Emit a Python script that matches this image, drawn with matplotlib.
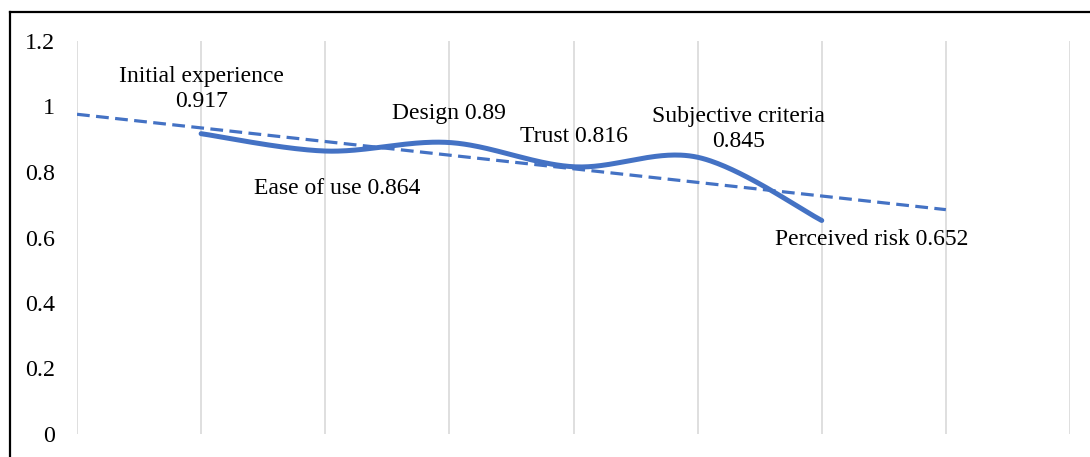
import numpy as np
import matplotlib
matplotlib.use("Agg")
import matplotlib.pyplot as plt
from matplotlib.lines import Line2D

# Factor scores along the adoption path
factors = ["Initial experience", "Ease of use", "Design", "Trust",
           "Subjective criteria", "Perceived risk"]
scores = [0.917, 0.864, 0.89, 0.816, 0.845, 0.652]
y_ticks = [0, 0.2, 0.4, 0.6, 0.8, 1, 1.2]
y_tick_labels = ["0", "0.2", "0.4", "0.6", "0.8", "1", "1.2"]

# label text layout: (text, dx, dy) offsets in pixels from each point
label_texts = ["Initial experience\n0.917", "Ease of use 0.864", "Design 0.89",
               "Trust 0.816", "Subjective criteria\n0.845", "Perceived risk 0.652"]
label_offsets = [(0, 45), (12, -37), (0, 29), (0, 30), (41, 28), (50, -19)]

BLUE = "#4472C4"
SERIF = ["Liberation Serif", "DejaVu Serif"]

x = np.arange(1, len(scores) + 1, dtype=float)
y = np.array(scores, dtype=float)


def smooth_curve(xs, ys, n=60):
    """Bezier smoothing through the points (Catmull-Rom style tangents)."""
    pts = np.column_stack([xs, ys])
    ext = np.vstack([pts[0], pts, pts[-1]])
    t = np.linspace(0, 1, n)[:, None]
    out = []
    for i in range(len(pts) - 1):
        p0, p1 = ext[i + 1], ext[i + 2]
        c1 = p0 + (ext[i + 2] - ext[i]) / 6.0
        c2 = p1 - (ext[i + 3] - ext[i + 1]) / 6.0
        seg = ((1 - t) ** 3) * p0 + 3 * ((1 - t) ** 2) * t * c1 \
            + 3 * (1 - t) * t ** 2 * c2 + t ** 3 * p1
        out.append(seg if i == 0 else seg[1:])
    seg = np.vstack(out)
    return seg[:, 0], seg[:, 1]


fig = plt.figure(figsize=(10.9, 4.57), dpi=100)
ax = fig.add_axes([77 / 1090, 23 / 457, 993 / 1090, 393 / 457])

# vertical category gridlines
for gx in range(0, 9):
    ax.axvline(gx, color="#D9D9D9", lw=1.2, zorder=0)

# linear trendline, forecast one period backward and forward
slope, intercept = np.polyfit(x, y, 1)
tx = np.array([0.0, 7.0])
ax.plot(tx, slope * tx + intercept, color=BLUE, lw=2.3, dashes=(4, 2), zorder=2)

sx, sy = smooth_curve(x, y)
ax.plot(sx, sy, color=BLUE, lw=3.6, solid_capstyle="round",
        solid_joinstyle="round", zorder=3)

for xi, yi, txt, (dx, dy) in zip(x, y, label_texts, label_offsets):
    ax.annotate(txt, (xi, yi), xytext=(dx, dy), textcoords="offset pixels",
                ha="center", va="center", fontsize=17, family=SERIF,
                linespacing=1.25, color="black", zorder=4)

ax.set_xlim(0, 8)
ax.set_ylim(0, 1.2)
ax.set_xticks([])
ax.set_yticks(y_ticks)
ax.set_yticklabels(y_tick_labels, family=SERIF, fontsize=17.3)
ax.tick_params(axis="y", length=0, pad=15.8)
for s in ax.spines.values():
    s.set_visible(False)

# chart frame
fx = 9.5 / 1090
fy = 1 - 11.5 / 457
fig.add_artist(Line2D([fx, fx], [fy, 0], transform=fig.transFigure,
                      color="black", lw=1.6))
fig.add_artist(Line2D([fx, 1], [fy, fy], transform=fig.transFigure,
                      color="black", lw=1.6))

fig.savefig("out.png", dpi=100)
